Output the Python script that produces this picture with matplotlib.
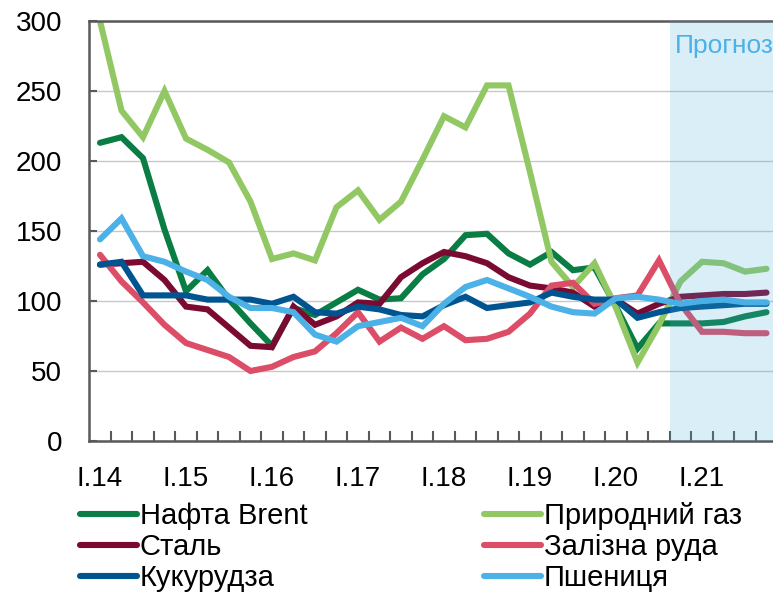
import numpy as np
import matplotlib
matplotlib.use("Agg")
import matplotlib.pyplot as plt

plt.rcParams['font.family'] = ['Liberation Sans', 'DejaVu Sans']

# quarterly indices, I.14 .. IV.21
tick_labels = ["I.14", "I.15", "I.16", "I.17", "I.18", "I.19", "I.20", "I.21"]
brent = [213, 217, 202, 151, 107, 122, 101, 84, 68, 95, 90, 99, 108, 101, 102, 119,
         130, 147, 148, 134, 126, 135, 122, 124, 96, 66, 84, 84, 84, 85, 89, 92]
gas = [300, 236, 217, 250, 216, 208, 199, 171, 130, 134, 129, 167, 179, 158, 171, 201,
       232, 224, 254, 254, 192, 128, 110, 127, 95, 56, 83, 114, 128, 127, 121, 123]
steel = [126, 127, 128, 115, 96, 94, 81, 68, 67, 96, 83, 89, 99, 98, 117, 127,
         135, 132, 127, 117, 111, 109, 106, 96, 101, 91, 98, 103, 104, 105, 105, 106]
ore = [133, 114, 99, 83, 70, 65, 60, 50, 53, 60, 64, 77, 92, 71, 81, 73,
       82, 72, 73, 78, 91, 111, 113, 98, 102, 104, 129, 98, 78, 78, 77, 77]
corn = [126, 128, 104, 104, 104, 101, 101, 101, 98, 103, 92, 91, 96, 94, 90, 89,
        97, 103, 95, 97, 99, 106, 103, 101, 101, 88, 92, 95, 96, 97, 98, 98]
wheat = [144, 159, 132, 128, 121, 115, 103, 95, 95, 92, 76, 71, 82, 85, 88, 82,
         98, 110, 115, 109, 103, 96, 92, 91, 102, 103, 101, 98, 100, 101, 99, 99]
forecast_start = 26.5  # from IV.20

series = [
    ("Нафта Brent", brent, "#0a7d45"),
    ("Природний газ", gas, "#92c864"),
    ("Сталь", steel, "#7b0a33"),
    ("Залізна руда", ore, "#dc4d67"),
    ("Кукурудза", corn, "#00548f"),
    ("Пшениця", wheat, "#4bb1e6"),
]

fig = plt.figure(figsize=(7.73, 5.96), dpi=100)
ax = fig.add_axes([89.25 / 773, 1 - 441 / 596, 688 / 773, 420 / 596])

x = np.arange(len(brent))
lines = {}
for name, vals, col in series:
    ln, = ax.plot(x, vals, color=col, lw=4.4, label=name, solid_joinstyle='miter',
                  solid_capstyle='round')
    lines[name] = ln

ax.axvspan(forecast_start, 31.5, color="#46aadc", alpha=0.2, lw=0, zorder=5)
ax.text(forecast_start + 0.22, 282, "Прогноз", color="#4bb1e6", fontsize=19,
        va="center", ha="left", zorder=6)

ax.set_xlim(-0.5, 31.5)
ax.set_ylim(0, 300)
ax.set_yticks(range(0, 301, 50))
ax.yaxis.grid(True, color="#c8c8c8", lw=1)
ax.set_axisbelow(True)
ax.set_xticks(range(0, 32, 4))
ax.set_xticklabels(tick_labels)
ax.set_xticks(np.arange(0.5, 31, 1), minor=True)
ax.tick_params(axis="x", which="major", length=0, labelsize=20, pad=18)
ax.tick_params(axis="x", which="minor", direction="in", length=7, width=1.5,
               color="#595959")
ax.tick_params(axis="y", direction="in", length=6, width=1.5, color="#595959",
               labelsize=20, pad=19.5)
for s in ["left", "bottom", "top"]:
    ax.spines[s].set_color("#595959")
    ax.spines[s].set_linewidth(1.8)
ax.spines["right"].set_visible(False)

order = ["Нафта Brent", "Сталь", "Кукурудза", "Природний газ", "Залізна руда", "Пшениця"]
fig.legend([lines[n] for n in order], order, ncol=2, loc="upper left",
           bbox_to_anchor=(80 / 773, 1 - 502 / 596), frameon=False, fontsize=21,
           handlelength=1.95, handletextpad=0.1, columnspacing=6.05,
           labelspacing=0.1, borderpad=0, borderaxespad=0)

fig.savefig("out.png", dpi=100)
